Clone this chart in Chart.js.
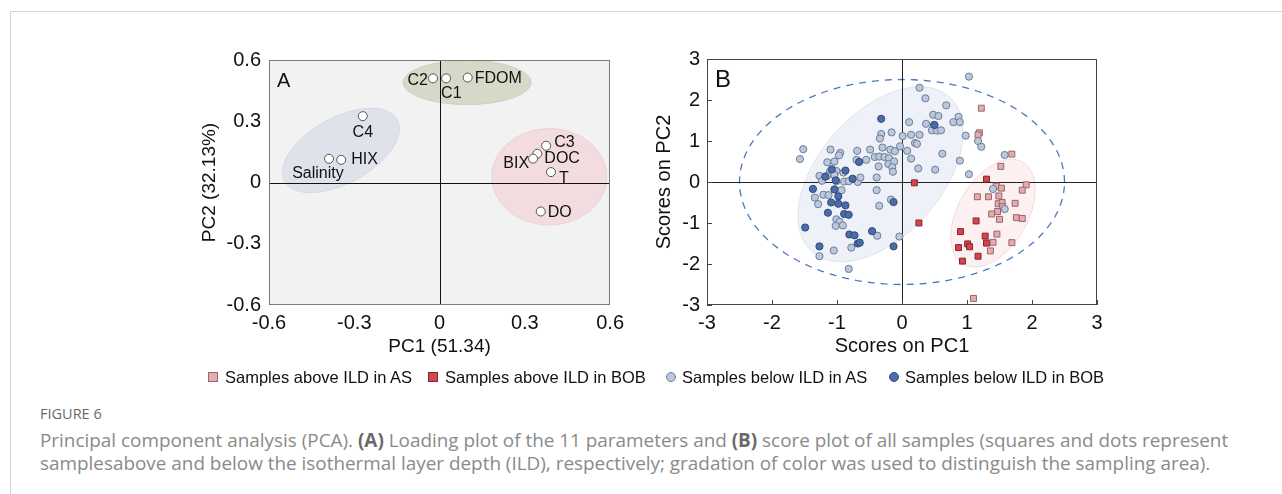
<!DOCTYPE html>
<html><head><meta charset="utf-8">
<script src="https://cdn.jsdelivr.net/npm/chart.js@4.4.1/dist/chart.umd.min.js"></script>
<style>
html,body{margin:0;padding:0;background:#fff;}
body{width:1282px;height:494px;position:relative;overflow:hidden;font-family:"Liberation Sans",Arial,sans-serif;}
#frame{position:absolute;left:10px;top:11px;width:1300px;height:520px;border-left:1px solid #d6d6d6;border-top:1px solid #d6d6d6;}
#wrapA{position:absolute;left:190px;top:40px;width:440px;height:330px;}
#wrapB{position:absolute;left:640px;top:40px;width:480px;height:330px;}
.lg{position:absolute;top:367px;height:20px;line-height:20px;font-size:16.5px;color:#111;white-space:nowrap;}
.mk{position:absolute;top:372px;width:8px;height:8px;}
#figlab{position:absolute;left:40px;top:404px;font-family:"Open Sans","Noto Sans",sans-serif;font-size:14.5px;color:#6b6b6b;}
#cap{position:absolute;left:40px;top:429px;width:1240px;font-family:"Open Sans","Noto Sans",sans-serif;font-size:18.9px;line-height:23px;color:#8a8a8a;white-space:nowrap;}
#cap b{color:#6a6a6a;}
</style></head>
<body>
<div id="frame"></div>
<div id="wrapA"><canvas id="cA" width="440" height="330"></canvas></div>
<div id="wrapB"><canvas id="cB" width="480" height="330"></canvas></div>

<div class="mk" style="left:208px;background:#eaa9ad;border:1px solid #8d6b6e;"></div>
<div class="lg" style="left:225px;">Samples above ILD in AS</div>
<div class="mk" style="left:428px;background:#d8434f;border:1px solid #7d2a2f;"></div>
<div class="lg" style="left:445px;">Samples above ILD in BOB</div>
<div class="mk" style="left:666px;background:#b9c8de;border:1px solid #6f7d92;border-radius:50%;"></div>
<div class="lg" style="left:682px;">Samples below ILD in AS</div>
<div class="mk" style="left:889px;background:#4c6ca8;border:1px solid #2f4a7e;border-radius:50%;"></div>
<div class="lg" style="left:905px;">Samples below ILD in BOB</div>

<div id="figlab">FIGURE 6</div>
<div id="cap">Principal component analysis (PCA). <b>(A)</b> Loading plot of the 11 parameters and <b>(B)</b> score plot of all samples (squares and dots represent<br>samplesabove and below the isothermal layer depth (ILD), respectively; gradation of color was used to distinguish the sampling area).</div>

<script>
// ---------- Panel A data (loadings) ----------
const loadingLabels = ["C2","C1","FDOM","C4","Salinity","HIX","C3","DOC","BIX","T","DO"];
const loadingPC1 = [-0.023, 0.023, 0.099, -0.270, -0.389, -0.346, 0.375, 0.344, 0.329, 0.392, 0.356];
const loadingPC2 = [0.510, 0.510, 0.514, 0.325, 0.116, 0.111, 0.180, 0.141, 0.117, 0.051, -0.142];
const ticksA = [-0.6, -0.3, 0, 0.3, 0.6];

// ---------- Panel B data (scores) ----------
const asAboveX = [1.22,1.19,1.17,1.69,1.52,1.91,1.85,1.45,1.53,1.16,1.33,1.49,1.48,1.54,1.55,1.74,1.47,1.38,1.50,1.76,1.85,1.46,1.40,1.69,1.36,1.10];
const asAboveY = [1.80,1.20,1.15,0.68,0.38,-0.07,-0.20,-0.10,-0.15,-0.36,-0.36,-0.34,-0.53,-0.50,-0.60,-0.52,-0.72,-0.78,-0.91,-0.87,-0.89,-1.27,-1.47,-1.48,-1.68,-2.84];
const bobAboveX = [0.19,0.26,1.30,1.14,0.90,1.28,1.01,1.04,0.87,1.30,1.17,0.93];
const bobAboveY = [-0.02,-1.00,0.07,-0.95,-1.21,-1.32,-1.51,-1.58,-1.60,-1.49,-1.81,-1.93];
const asBelowX = [1.03,0.27,0.36,0.68,0.48,0.56,0.87,0.79,0.89,0.11,0.37,0.49,0.46,0.54,0.60,-0.32,-0.16,-0.34,0.01,0.14,0.27,0.20,0.23,0.98,1.17,1.22,
  -1.52,-1.57,-1.10,-0.95,-0.97,-0.69,-0.49,-0.30,-0.18,-0.11,-0.03,0.08,-0.42,-0.35,-0.27,-0.20,-1.15,-1.04,-0.70,-0.55,-0.21,-0.12,-0.15,-0.36,
  0.14,0.25,0.51,0.89,1.03,0.62,-0.90,-1.01,-1.11,-1.04,-1.27,-1.15,-1.23,-1.01,-0.89,-0.82,-0.68,-0.64,-0.39,-0.14,-0.39,-1.34,-1.29,-1.21,-1.13,
  -0.98,-0.93,-0.17,-0.35,-1.01,-0.96,-1.02,-0.91,-0.38,-0.04,-1.05,-0.78,-1.27,-0.82,1.58,1.40,1.58];
const asBelowY = [2.57,2.30,2.04,1.87,1.64,1.61,1.59,1.46,1.46,1.46,1.42,1.39,1.26,1.25,1.26,1.17,1.21,1.06,1.12,1.15,1.15,0.95,0.93,1.13,1.00,0.86,
  0.80,0.56,0.79,0.71,0.65,0.76,0.79,0.84,0.79,0.75,0.87,0.76,0.61,0.62,0.61,0.58,0.48,0.50,0.54,0.54,0.44,0.50,0.36,0.38,
  0.57,0.33,0.30,0.52,0.19,0.69,0.23,0.27,0.25,0.17,0.15,0.15,0.03,0.02,0.01,0.02,0.00,0.11,0.11,0.25,-0.20,-0.38,-0.54,-0.31,-0.32,
  -0.24,-0.20,-0.43,-0.58,-0.91,-0.97,-1.07,-1.06,-1.31,-1.33,-1.67,-1.60,-1.81,-2.12,0.66,-0.17,-0.66];
const bobBelowX = [-0.32,0.50,-0.66,-0.87,-1.08,-1.18,-1.02,-0.76,-1.37,-1.04,-0.98,-1.09,-0.98,-0.87,-1.14,-0.89,-0.82,-0.13,-1.49,-0.81,-0.73,-0.46,-0.68,-0.65,-1.27,-0.13];
const bobBelowY = [1.54,1.39,0.49,0.28,0.31,0.13,0.04,0.08,-0.17,-0.18,-0.35,-0.50,-0.53,-0.57,-0.75,-0.78,-0.80,-0.49,-1.11,-1.28,-1.30,-1.20,-1.50,-1.48,-1.57,-1.57];
const ticksB = [-3, -2, -1, 0, 1, 2, 3];

const pts = (xs, ys) => xs.map((x, i) => ({x, y: ys[i]}));
const FONT = "'Liberation Sans', Arial, sans-serif";

// plugin factory: config kept in a closure (not passed through Chart.js option resolution)
function makePanelPlugin(o) {
  return {
    id: 'panel',
    beforeDraw(chart) {
      if (!o.bg) return;
      const {ctx, chartArea: a} = chart;
      ctx.save(); ctx.fillStyle = o.bg; ctx.fillRect(a.left, a.top, a.width, a.height); ctx.restore();
    },
    beforeDatasetsDraw(chart) {
      const {ctx, chartArea: a, scales: {x, y}} = chart;
      ctx.save();
      ctx.beginPath(); ctx.rect(a.left, a.top, a.width, a.height); ctx.clip();
      o.ellipses.forEach(e => {
        ctx.beginPath();
        for (let i = 0; i <= 180; i++) {
          const t = i / 180 * 2 * Math.PI;
          const dx = e.cx + e.u[0] * Math.cos(t) + e.v[0] * Math.sin(t);
          const dy = e.cy + e.u[1] * Math.cos(t) + e.v[1] * Math.sin(t);
          const px = x.getPixelForValue(dx), py = y.getPixelForValue(dy);
          if (i) ctx.lineTo(px, py); else ctx.moveTo(px, py);
        }
        ctx.closePath();
        if (e.fill) { ctx.fillStyle = e.fill; ctx.fill(); }
        if (e.stroke) { ctx.setLineDash(e.dash || []); ctx.strokeStyle = e.stroke; ctx.lineWidth = e.lw || 1; ctx.stroke(); ctx.setLineDash([]); }
      });
      const x0 = Math.round(x.getPixelForValue(0)) + 0.5, y0 = Math.round(y.getPixelForValue(0)) + 0.5;
      ctx.strokeStyle = o.zeroColor; ctx.lineWidth = 1;
      ctx.beginPath(); ctx.moveTo(x0, a.top); ctx.lineTo(x0, a.bottom); ctx.moveTo(a.left, y0); ctx.lineTo(a.right, y0); ctx.stroke();
      ctx.restore();
    },
    afterDatasetsDraw(chart) {
      const {ctx, chartArea: a, scales: {x, y}} = chart;
      ctx.save();
      ctx.strokeStyle = o.frameColor; ctx.lineWidth = 1;
      ctx.strokeRect(Math.round(a.left) + 0.5, Math.round(a.top) + 0.5, Math.round(a.width) - 1, Math.round(a.height) - 1);
      if (o.innerTicks) {
        ctx.beginPath();
        x.ticks.forEach(t => { const px = Math.round(x.getPixelForValue(t.value)) + 0.5; ctx.moveTo(px, a.bottom); ctx.lineTo(px, a.bottom - o.innerTicks); });
        y.ticks.forEach(t => { const py = Math.round(y.getPixelForValue(t.value)) + 0.5; ctx.moveTo(a.left, py); ctx.lineTo(a.left + o.innerTicks, py); });
        ctx.stroke();
      }
      ctx.fillStyle = '#111';
      ctx.font = o.letterFont; ctx.textBaseline = 'alphabetic'; ctx.textAlign = 'left';
      ctx.fillText(o.letter, a.left + o.letterDx, a.top + o.letterDy);
      if (o.labels) {
        ctx.font = o.labelFont; ctx.textBaseline = 'middle';
        const ds = chart.data.datasets[0].data;
        ds.forEach((p, i) => {
          const name = o.labels[i];
          const pl = o.placement[name];
          ctx.textAlign = pl.align;
          ctx.fillText(name, x.getPixelForValue(p.x) + pl.dx, y.getPixelForValue(p.y) + pl.dy);
        });
      }
      ctx.restore();
    }
  };
}

function axis(ticks, min, max, title, titleSize, titlePad, tickPad, fitProp, fitVal) {
  return {
    type: 'linear', min, max,
    grid: {display: false, drawTicks: false},
    border: {display: false},
    afterBuildTicks: s => { s.ticks = ticks.map(v => ({value: v})); },
    afterFit: s => { s[fitProp] = fitVal; },
    ticks: {padding: tickPad, color: '#111', font: {family: FONT, size: 20}, callback: v => String(v)},
    title: {display: true, text: title, color: '#111', font: {family: FONT, size: titleSize}, padding: titlePad}
  };
}

new Chart(document.getElementById('cA'), {
  type: 'scatter',
  data: {datasets: [{
    data: pts(loadingPC1, loadingPC2),
    pointRadius: 4.5, pointHoverRadius: 4.5, pointBackgroundColor: '#ffffff', pointBorderColor: '#555555', pointBorderWidth: 1
  }]},
  options: {
    responsive: false, animation: false, events: [],
    layout: {padding: {top: 12, right: 18, left: 0, bottom: 0}},
    scales: {
      x: axis(ticksA, -0.6, 0.6, 'PC1 (51.34)', 19, {top: 0, bottom: 12}, 6, 'height', 65),
      y: axis(ticksA, -0.6, 0.6, 'PC2 (32.13%)', 19, {top: 8, bottom: 0}, 8, 'width', 79)
    },
    plugins: {legend: {display: false}, tooltip: {enabled: false}}
  },
  plugins: [makePanelPlugin({
    bg: '#f2f2f2', zeroColor: '#111', frameColor: '#7a7a7a',
    letter: 'A', letterFont: '20px ' + FONT, letterDx: 8, letterDy: 27,
    labels: loadingLabels, labelFont: '16px ' + FONT,
    placement: {
      C2: {dx: -5, dy: 2, align: 'right'}, C1: {dx: -5, dy: 15, align: 'left'},
      FDOM: {dx: 7, dy: 1, align: 'left'}, C4: {dx: 0, dy: 16, align: 'center'},
      Salinity: {dx: -11, dy: 15, align: 'center'}, HIX: {dx: 10, dy: 0, align: 'left'},
      C3: {dx: 8, dy: -3, align: 'left'}, DOC: {dx: 7, dy: 5, align: 'left'},
      BIX: {dx: -4, dy: 5, align: 'right'}, T: {dx: 8, dy: 7, align: 'left'},
      DO: {dx: 7, dy: 1, align: 'left'}
    },
    ellipses: [
      {cx: 0.097, cy: 0.49, u: [0.225, 0], v: [0, 0.108], fill: '#d6d9c8', stroke: '#cdd0be', lw: 1},
      {cx: -0.347, cy: 0.157, u: [0.197, 0.153], v: [-0.0586, 0.1388], fill: '#dfe2eb', stroke: '#d6d9e3', lw: 1},
      {cx: 0.386, cy: 0.028, u: [0.202, 0], v: [0, 0.236], fill: '#f2dcdf', stroke: '#ecd3d6', lw: 1}
    ]
  })]
});

new Chart(document.getElementById('cB'), {
  type: 'scatter',
  data: {datasets: [
    {data: pts(bobBelowX, bobBelowY), pointStyle: 'circle', pointRadius: 3.6, pointBackgroundColor: '#4c6ca8', pointBorderColor: '#2f4a7e', pointBorderWidth: 1},
    {data: pts(asBelowX, asBelowY), pointStyle: 'circle', pointRadius: 3.6, pointBackgroundColor: '#b9c8de', pointBorderColor: '#6f7d92', pointBorderWidth: 1},
    {data: pts(asAboveX, asAboveY), pointStyle: 'rect', pointRadius: 4.2, pointBackgroundColor: '#eaa9ad', pointBorderColor: '#8d6b6e', pointBorderWidth: 1},
    {data: pts(bobAboveX, bobAboveY), pointStyle: 'rect', pointRadius: 4.2, pointBackgroundColor: '#d8434f', pointBorderColor: '#7d2a2f', pointBorderWidth: 1}
  ]},
  options: {
    responsive: false, animation: false, events: [],
    layout: {padding: {top: 11, right: 23, left: 0, bottom: 0}},
    scales: {
      x: axis(ticksB, -3, 3, 'Scores on PC1', 20, {top: 0, bottom: 12}, 6, 'height', 65),
      y: axis(ticksB, -3, 3, 'Scores on PC2', 20, {top: 12, bottom: 0}, 7, 'width', 67)
    },
    plugins: {legend: {display: false}, tooltip: {enabled: false}}
  },
  plugins: [makePanelPlugin({
    zeroColor: '#222', frameColor: '#444', innerTicks: 5,
    letter: 'B', letterFont: '24px ' + FONT, letterDx: 8, letterDy: 28,
    ellipses: [
      {cx: -0.33, cy: 0.19, u: [1.03, 1.92], v: [-0.74, 0.93], fill: '#eef2f8', stroke: '#dde3ec', lw: 1},
      {cx: 1.40, cy: -0.76, u: [0.446, 1.252], v: [-0.472, 0.397], fill: '#fdf0f1', stroke: '#f5d9dc', lw: 1},
      {cx: 0, cy: 0, u: [2.5, 0], v: [0, 2.5], stroke: '#4a78c2', lw: 1.3, dash: [7, 6]}
    ]
  })]
});
</script>
</body></html>
